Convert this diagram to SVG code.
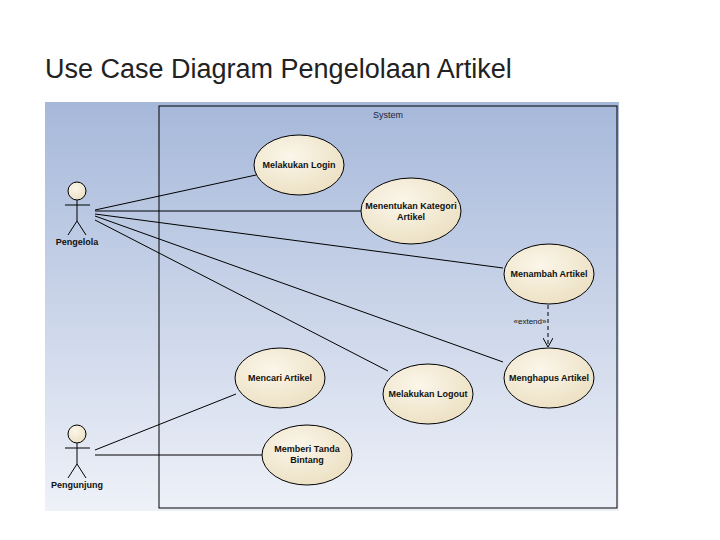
<svg xmlns="http://www.w3.org/2000/svg" width="720" height="540" viewBox="0 0 720 540">
<defs>
<linearGradient id="bg" x1="0" y1="0" x2="0" y2="1"><stop offset="0" stop-color="#a6b8da"/><stop offset="1" stop-color="#eef1f8"/></linearGradient>
<radialGradient id="uc" cx="0.4" cy="0.35" r="0.7"><stop offset="0" stop-color="#fbf6ea"/><stop offset="1" stop-color="#ece0c2"/></radialGradient>
<marker id="open" viewBox="0 0 10 10" refX="9" refY="5" markerWidth="10" markerHeight="10" orient="auto" markerUnits="userSpaceOnUse"><path d="M0,0 L9,5 L0,10" fill="none" stroke="#000" stroke-width="1"/></marker>
</defs>
<style>
.uc{fill:url(#uc);stroke:#000;stroke-width:1}
.t{font-family:"Liberation Sans",Arial,sans-serif;font-size:9px;font-weight:bold;text-anchor:middle;fill:#111}
.a{fill:none;stroke:#000;stroke-width:1}
.c{stroke:#000;stroke-width:1;fill:none}
</style>
<rect width="720" height="540" fill="#fff"/>
<text x="45" y="78" font-family="Liberation Sans,Arial,sans-serif" font-size="27" fill="#222">Use Case Diagram Pengelolaan Artikel</text>
<rect x="45" y="102" width="574" height="409" fill="url(#bg)"/>
<rect x="159" y="106" width="458" height="402" fill="none" stroke="#000" stroke-width="1"/>
<text x="388" y="118" font-family="Liberation Sans,Arial,sans-serif" font-size="9" text-anchor="middle" fill="#223">System</text>
<g id="connectors">
<line class="c" x1="95" y1="210" x2="256" y2="175"/>
<line class="c" x1="95" y1="211" x2="361" y2="211"/>
<line class="c" x1="95" y1="214" x2="503" y2="268"/>
<line class="c" x1="95" y1="216" x2="503" y2="362"/>
<line class="c" x1="95" y1="220" x2="388" y2="371"/>
<line class="c" x1="95" y1="450" x2="236" y2="394"/>
<line class="c" x1="95" y1="455" x2="262" y2="455"/>
<line class="c" x1="548" y1="305" x2="548" y2="347" stroke-dasharray="4,3" marker-end="url(#open)"/>
<text x="530" y="324" font-family="Liberation Sans,Arial,sans-serif" font-size="8" text-anchor="middle" fill="#111">«extend»</text>
</g>
<g id="pengelola">
<circle cx="77" cy="191" r="9" class="uc"/>
<path class="a" d="M77 200 V221 M65 205 H90 M77 221 L68 235 M77 221 L86 235"/>
<text class="t" x="77" y="245">Pengelola</text>
</g>
<g id="pengunjung">
<circle cx="77" cy="434" r="9" class="uc"/>
<path class="a" d="M77 443 V464 M65 448 H90 M77 464 L68 478 M77 464 L86 478"/>
<text class="t" x="77" y="488">Pengunjung</text>
</g>
<g id="login"><ellipse class="uc" cx="299" cy="165" rx="45" ry="30"/><text class="t" x="299" y="168">Melakukan Login</text></g>
<g id="kategori"><ellipse class="uc" cx="411" cy="211" rx="50" ry="33"/><text class="t" x="411" y="209">Menentukan Kategori</text><text class="t" x="411" y="220">Artikel</text></g>
<g id="menambah"><ellipse class="uc" cx="549" cy="274" rx="45" ry="30"/><text class="t" x="549" y="277">Menambah Artikel</text></g>
<g id="menghapus"><ellipse class="uc" cx="549" cy="378" rx="45" ry="30"/><text class="t" x="549" y="381">Menghapus Artikel</text></g>
<g id="mencari"><ellipse class="uc" cx="280" cy="378" rx="45" ry="30"/><text class="t" x="280" y="381">Mencari Artikel</text></g>
<g id="logout"><ellipse class="uc" cx="428" cy="394" rx="45" ry="30"/><text class="t" x="428" y="397">Melakukan Logout</text></g>
<g id="bintang"><ellipse class="uc" cx="307" cy="455" rx="45" ry="30"/><text class="t" x="307" y="452">Memberi Tanda</text><text class="t" x="307" y="463">Bintang</text></g>
</svg>
